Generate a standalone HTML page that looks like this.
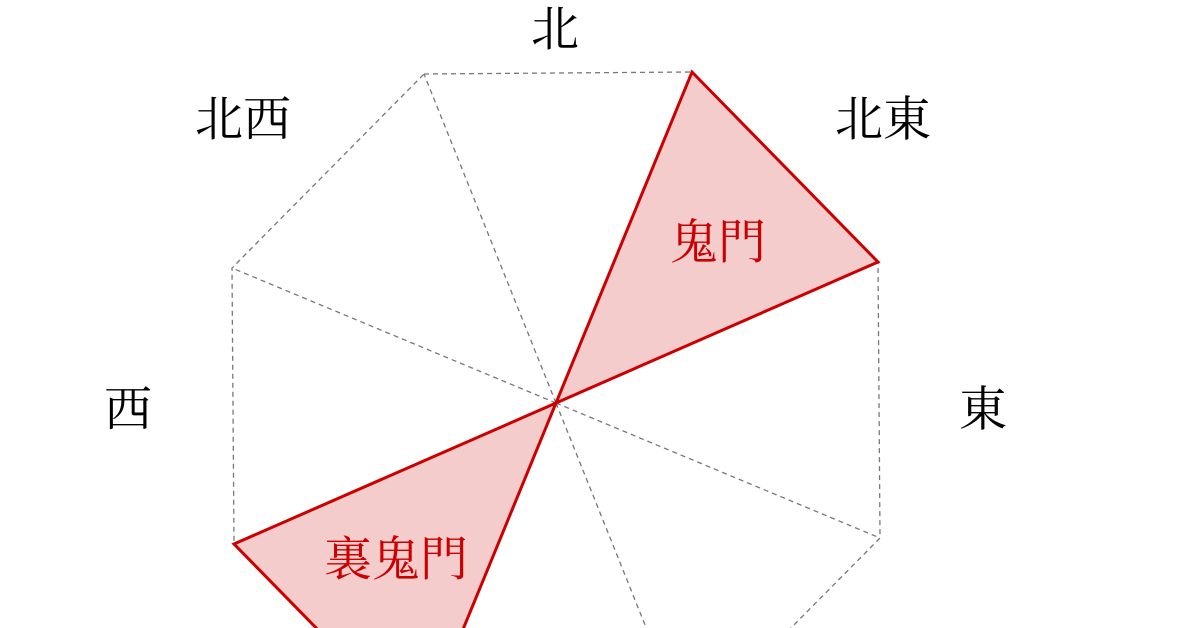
<!DOCTYPE html>
<html><head><meta charset="utf-8"><style>
html,body{margin:0;padding:0;background:#fff;width:1200px;height:628px;overflow:hidden}
svg{display:block}
text{font-family:"Liberation Serif","Noto Serif CJK SC",serif;font-size:48px;text-anchor:middle;dominant-baseline:central}
</style></head><body>
<svg width="1200" height="628" viewBox="0 0 1200 628" xmlns="http://www.w3.org/2000/svg">
<g stroke="#777" stroke-width="1.3" stroke-dasharray="5,4" fill="none">
<polygon points="424,74 692,72 878,262 880,538 688,732 420,734 234,544 232,268"/>
<line x1="556" y1="403" x2="424" y2="74"/>
<line x1="556" y1="403" x2="880" y2="538"/>
<line x1="556" y1="403" x2="688" y2="732"/>
<line x1="556" y1="403" x2="232" y2="268"/>
</g>
<g fill="#f4cccc" stroke="#cc0000" stroke-width="3" stroke-linejoin="miter">
<polygon points="556,403 692,72 878,262"/>
<polygon points="556,403 234,544 420,734"/>
</g>
<text x="555" y="30">北</text>
<text x="243" y="120">北西</text>
<text x="883" y="120">北東</text>
<text x="128" y="410">西</text>
<text x="983" y="410">東</text>
<text x="718" y="243" fill="#cc0000">鬼門</text>
<text x="396" y="560" fill="#cc0000">裏鬼門</text>
</svg>
</body></html>
